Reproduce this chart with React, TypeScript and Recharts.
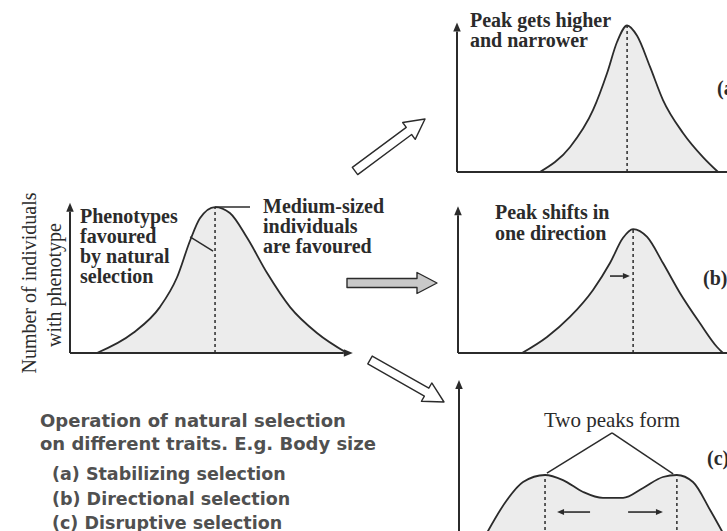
import React from 'react';
import { ComposedChart, Area, XAxis, YAxis, ReferenceLine } from 'recharts';

// every panel: x = body size (0-100), y = number of individuals (0-100)
const startX = [9.6, 22.5, 32.1, 38.2, 42.9, 46.4, 51.8, 57.1, 63.2, 70.4, 78.6, 88.2, 98.9];
const startY = [0, 13.5, 31, 51, 76, 91, 98.6, 94.6, 78, 54, 31, 13.5, 0];

const stabX = [30.7, 41.9, 50.4, 55.6, 59.3, 63, 66.7, 71.5, 76.3, 83.7, 91.1, 96.7];
const stabY = [0, 16.9, 41.9, 66.9, 88, 99, 92, 71, 48.6, 26.4, 10.1, 0];

const dirX = [23.8, 33.1, 41.6, 50.2, 56.5, 61.3, 65.1, 70.3, 76.2, 82.5, 89.9, 96.3, 98.5];
const dirY = [0, 11, 24.7, 43.2, 61.6, 78.8, 84.9, 79.5, 61.6, 41.1, 20.5, 4.1, 0];

const disX = [10.4, 17.9, 23.9, 32.1, 38.8, 46.3, 53.7, 61.2, 68.7, 76.1, 81.3, 87.3, 93.7, 98.5];
const disY = [0, 21.6, 33.3, 37.9, 34.6, 26.8, 22.9, 22.9, 29.4, 36.6, 37.9, 33.3, 15, 0];

const summary = ['Operation of natural selection', 'on different traits. E.g. Body size'];
const kinds = ['(a) Stabilizing selection', '(b) Directional selection', '(c) Disruptive selection'];

const INK = '#2b2b2b';
const FILL = '#ececec';
const SERIF = "'Liberation Serif', 'Times New Roman', serif";
const SANS = "'DejaVu Sans', sans-serif";

const toRows = (xs: number[], ys: number[]) => xs.map((x, i) => ({ x, y: ys[i] }));

// line with a solid head at its end point
const arrowLine = (head: number, width = 2) => (p: any) => {
  const { x1, y1, x2, y2 } = p;
  const a = Math.atan2(y2 - y1, x2 - x1);
  const hx = x2 - head * Math.cos(a);
  const hy = y2 - head * Math.sin(a);
  const w = head * 0.42;
  const pts = `${x2},${y2} ${hx - w * Math.sin(a)},${hy + w * Math.cos(a)} ${hx + w * Math.sin(a)},${hy - w * Math.cos(a)}`;
  return (
    <g>
      <line x1={x1} y1={y1} x2={hx} y2={hy} stroke={INK} strokeWidth={width} />
      <polygon points={pts} fill={INK} />
    </g>
  );
};

const seg = (a: [number, number], b: [number, number]) => [{ x: a[0], y: a[1] }, { x: b[0], y: b[1] }];

const Panel = ({ box, margin, data, children }: any) => (
  <div style={{ position: 'absolute', left: box[0], top: box[1] }}>
    <ComposedChart width={box[2]} height={box[3]} data={data} margin={margin}>
      <XAxis dataKey="x" type="number" domain={[0, 100]} hide />
      <YAxis type="number" domain={[0, 100]} hide />
      <Area
        type="monotone"
        dataKey="y"
        stroke={INK}
        strokeWidth={1.8}
        fill={FILL}
        fillOpacity={1}
        dot={false}
        activeDot={false}
        isAnimationActive={false}
      />
      {children}
    </ComposedChart>
  </div>
);

const dash = { stroke: INK, strokeWidth: 1.5, strokeDasharray: '3 3', ifOverflow: 'visible' as const };
const plain = { stroke: INK, strokeWidth: 1.5, ifOverflow: 'visible' as const };
const axis = { stroke: INK, strokeWidth: 2, ifOverflow: 'visible' as const };

const BigArrow = ({ from, to, fill }: { from: number[]; to: number[]; fill: string }) => {
  const len = Math.hypot(to[0] - from[0], to[1] - from[1]);
  const ang = (Math.atan2(to[1] - from[1], to[0] - from[0]) * 180) / Math.PI;
  const s = 4.5, h = 10.5, L = 20;
  const pts = [[0, -s], [len - L, -s], [len - L, -h], [len, 0], [len - L, h], [len - L, s], [0, s]]
    .map(p => p.join(','))
    .join(' ');
  return (
    <polygon
      points={pts}
      transform={`translate(${from[0]},${from[1]}) rotate(${ang})`}
      fill={fill}
      stroke={INK}
      strokeWidth={1.4}
      strokeLinejoin="round"
    />
  );
};

const serifBold = { fontFamily: SERIF, fontWeight: 700, fontSize: 20, fill: INK };

export default function App() {
  return (
    <div style={{ position: 'absolute', left: 0, top: 0, width: 727, height: 531, overflow: 'hidden', background: '#fff' }}>
      {/* starting population */}
      <Panel box={[60, 190, 300, 180]} margin={{ top: 15, right: 10, bottom: 17, left: 10 }} data={toRows(startX, startY)}>
        <ReferenceLine segment={seg([0, 0], [0, 101.5])} {...axis} shape={arrowLine(9)} />
        <ReferenceLine segment={seg([0, 0], [101, 0])} {...axis} shape={arrowLine(9)} />
        <ReferenceLine segment={seg([51.8, 0], [51.8, 98.6])} {...dash} />
        <ReferenceLine segment={seg([51.8, 98.6], [64.3, 98.6])} {...plain} />
        <ReferenceLine segment={seg([42.9, 78.4], [51.1, 68.9])} {...plain} />
      </Panel>

      {/* (a) stabilizing */}
      <Panel box={[440, 10, 300, 175]} margin={{ top: 14, right: 13, bottom: 13, left: 17 }} data={toRows(stabX, stabY)}>
        <ReferenceLine segment={seg([0, 0], [0, 101])} {...axis} shape={arrowLine(9)} />
        <ReferenceLine segment={seg([0, 0], [110, 0])} {...axis} />
        <ReferenceLine segment={seg([63, 0], [63, 99])} {...dash} />
      </Panel>

      {/* (b) directional */}
      <Panel box={[440, 195, 300, 170]} margin={{ top: 12, right: 13, bottom: 12, left: 18 }} data={toRows(dirX, dirY)}>
        <ReferenceLine segment={seg([0, 0], [0, 100.5])} {...axis} shape={arrowLine(9)} />
        <ReferenceLine segment={seg([0, 0], [110, 0])} {...axis} />
        <ReferenceLine segment={seg([65.1, 0], [65.1, 84.9])} {...dash} />
        <ReferenceLine segment={seg([56.5, 52.7], [63.9, 52.7])} {...plain} shape={arrowLine(7, 1.6)} />
      </Panel>

      {/* (c) disruptive */}
      <Panel box={[440, 365, 300, 180]} margin={{ top: 15, right: 13, bottom: 12, left: 19 }} data={toRows(disX, disY)}>
        <ReferenceLine segment={seg([0, -5], [0, 100])} {...axis} shape={arrowLine(9)} />
        <ReferenceLine segment={seg([32.1, -2], [32.1, 37.9])} {...dash} />
        <ReferenceLine segment={seg([81.3, -2], [81.3, 37.9])} {...dash} />
        <ReferenceLine segment={seg([57.1, 65.4], [32.8, 39.2])} {...plain} />
        <ReferenceLine segment={seg([57.1, 65.4], [79.9, 38.6])} {...plain} />
        <ReferenceLine segment={seg([48.9, 13.7], [36.6, 13.7])} {...plain} shape={arrowLine(7, 1.6)} />
        <ReferenceLine segment={seg([63.1, 13.7], [76.1, 13.7])} {...plain} shape={arrowLine(7, 1.6)} />
      </Panel>

      <svg width={727} height={531} style={{ position: 'absolute', left: 0, top: 0, pointerEvents: 'none' }}>
        <BigArrow from={[355, 171]} to={[425, 119]} fill="#fff" />
        <BigArrow from={[347, 283]} to={[437, 283]} fill="#c9c9c9" />
        <BigArrow from={[370, 360]} to={[444, 402]} fill="#fff" />

        <g style={{ fontFamily: SERIF, fontSize: 20, fill: INK }}>
          <text x={36} y={283} textAnchor="middle" transform="rotate(-90 36 283)">Number of individuals</text>
          <text x={61} y={285} textAnchor="middle" transform="rotate(-90 61 285)">with phenotype</text>
        </g>

        <g style={serifBold}>
          <text x={80} y={223}>Phenotypes</text>
          <text x={80} y={243}>favoured</text>
          <text x={80} y={263}>by natural</text>
          <text x={80} y={283}>selection</text>

          <text x={263} y={213}>Medium-sized</text>
          <text x={263} y={233}>individuals</text>
          <text x={263} y={253}>are favoured</text>

          <text x={470} y={27}>Peak gets higher</text>
          <text x={470} y={47}>and narrower</text>

          <text x={495} y={219}>Peak shifts in</text>
          <text x={495} y={240}>one direction</text>

          <text x={717} y={95}>(a)</text>
          <text x={703} y={285}>(b)</text>
          <text x={707} y={465}>(c)</text>
        </g>

        <text x={612} y={427} textAnchor="middle" style={{ fontFamily: SERIF, fontSize: 21, fill: INK }}>
          Two peaks form
        </text>

        <g style={{ fontFamily: SANS, fontWeight: 700, fill: '#505050' }}>
          <text x={40} y={427} fontSize={18}>{summary[0]}</text>
          <text x={40} y={450} fontSize={18}>{summary[1]}</text>
          {kinds.map((k, i) => (
            <text key={k} x={52} y={480 + i * 24.5} fontSize={17.5}>{k}</text>
          ))}
        </g>
      </svg>
    </div>
  );
}
